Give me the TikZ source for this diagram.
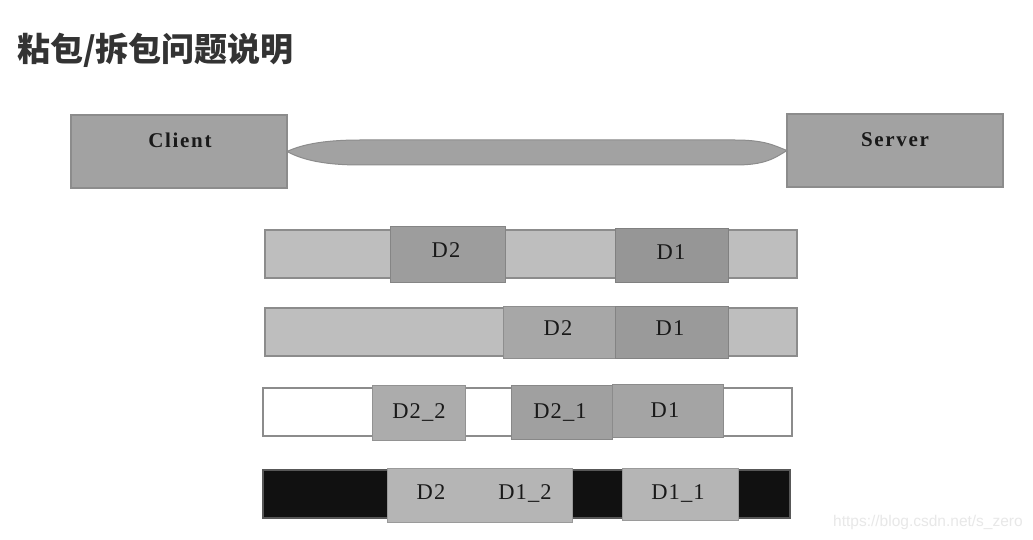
\documentclass[tikz,border=0pt]{standalone}
\usepackage{fontspec}
\setmainfont{Liberation Serif}
\newfontfamily\cjk{Noto Sans CJK SC}
\newfontfamily\wmfont{Liberation Sans}
\newfontfamily\boxfont{Liberation Serif}[LetterSpace=8]
\newfontfamily\segfont{Liberation Serif}[LetterSpace=5]
\definecolor{titlec}{HTML}{333333}
\definecolor{boxfill}{HTML}{A2A2A2}
\definecolor{boxline}{HTML}{8C8C8C}
\definecolor{lightseg}{HTML}{BEBEBE}
\definecolor{darkA}{HTML}{9D9D9D}
\definecolor{darkB}{HTML}{969696}
\definecolor{midA}{HTML}{A7A7A7}
\definecolor{midB}{HTML}{9A9A9A}
\definecolor{blkA}{HTML}{ACACAC}
\definecolor{blkB}{HTML}{A0A0A0}
\definecolor{blkC}{HTML}{A4A4A4}
\definecolor{nearblack}{HTML}{111111}
\definecolor{palegray}{HTML}{B5B5B5}
\definecolor{wm}{HTML}{E8E8E8}
\begin{document}
\begin{tikzpicture}[x=1pt,y=-1pt,
  seg/.style={draw=boxline, line width=1.2pt, inner sep=0pt, outer sep=0pt, anchor=north west},
  blk/.style={draw=#1!85!black, line width=0.6pt, fill=#1, inner sep=0pt, outer sep=0pt, anchor=north west},
  endbox/.style={seg, fill=boxfill, minimum width=216pt, minimum height=73pt},
  boxlabel/.style={anchor=base, inner sep=0pt, font=\boxfont\bfseries\fontsize{21}{23}\selectfont, text=black!90},
  seglabel/.style={anchor=base, inner sep=0pt, font=\segfont\fontsize{22.5}{24}\selectfont, text=black!90},
  cable/.style={draw=boxline, line width=1pt, fill=boxfill}
]
\useasboundingbox (0,0) rectangle (1033,540);
\fill[white] (0,0) rectangle (1033,540);

% title
\node[anchor=west, inner sep=0pt, text=titlec, font=\cjk\bfseries\fontsize{33}{36}\selectfont] (title) at (17,50) {粘包/拆包问题说明};

% client / server
\node[endbox] (client) at (71,115) {};
\node[endbox] (server) at (787,114) {};
\node[boxlabel] (clientlbl) at (180,148) {Client};
\node[boxlabel] (serverlbl) at (895,147) {Server};

% cable
\draw[cable] (client.east) .. controls (300,145.5) and (320,140) .. (360,140)
  -- (735,140) .. controls (765,140) and (774,145.5) .. (server.west)
  .. controls (774,158.5) and (765,165) .. (735,165)
  -- (360,165) .. controls (320,165) and (300,158.5) .. (client.east) -- cycle;

% row 1
\node[seg, fill=lightseg, minimum width=532pt, minimum height=48pt] (bar1) at (265,230) {};
\node[blk=darkA, minimum width=115pt, minimum height=56pt] (r1d2) at (390,226) {};
\node[blk=darkB, minimum width=113pt, minimum height=54pt] (r1d1) at (615,228) {};
\node[seglabel] (r1d2l) at (446,257) {D2};
\node[seglabel] (r1d1l) at (671,259) {D1};

% row 2
\node[seg, fill=lightseg, minimum width=532pt, minimum height=48pt] (bar2) at (265,308) {};
\node[blk=midA, minimum width=112pt, minimum height=52pt] (r2d2) at (503,306) {};
\node[blk=midB, minimum width=113pt, minimum height=52pt] (r2d1) at (615,306) {};
\node[seglabel] (r2d2l) at (558,335) {D2};
\node[seglabel] (r2d1l) at (670,335) {D1};

% row 3
\node[seg, fill=white, minimum width=529pt, minimum height=48pt] (bar3) at (263,388) {};
\node[blk=blkA, minimum width=93pt, minimum height=55pt] (r3d22) at (372,385) {};
\node[blk=blkB, minimum width=101pt, minimum height=54pt] (r3d21) at (511,385) {};
\node[blk=blkC, minimum width=111pt, minimum height=53pt] (r3d1) at (612,384) {};
\node[seglabel] (r3d22l) at (419,418) {D2\_2};
\node[seglabel] (r3d21l) at (560,418) {D2\_1};
\node[seglabel] (r3d1l) at (665,417) {D1};

% row 4
\node[seg, draw=nearblack!70, fill=nearblack, minimum width=527pt, minimum height=48pt] (bar4) at (263,470) {};
\node[blk=palegray, minimum width=185pt, minimum height=54pt] (r4g1) at (387,468) {};
\node[blk=palegray, minimum width=116pt, minimum height=52pt] (r4g2) at (622,468) {};
\node[seglabel] (r4d2l) at (431,499) {D2};
\node[seglabel] (r4d12l) at (525,499) {D1\_2};
\node[seglabel] (r4d11l) at (678,499) {D1\_1};

% watermark
\node[anchor=west, inner sep=0pt, text=wm, font=\wmfont\fontsize{15.5}{17}\selectfont] (wmark) at (833,522) {https://blog.csdn.net/s\_zero};
\end{tikzpicture}
\end{document}
